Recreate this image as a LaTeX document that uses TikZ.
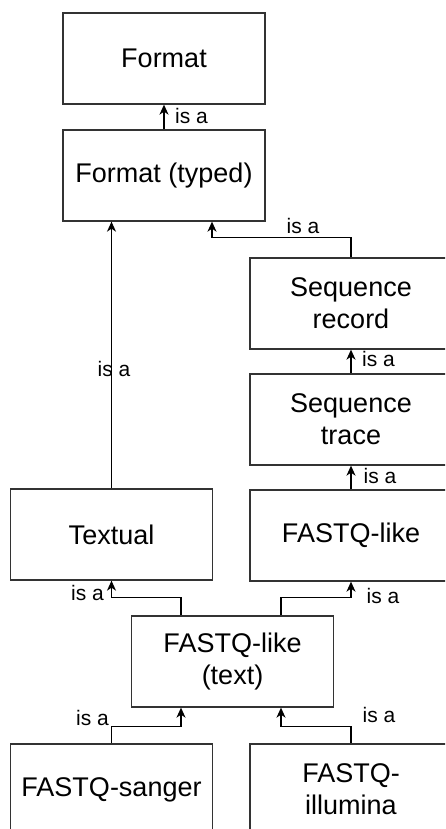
\documentclass[tikz,border=0pt]{standalone}
\usepackage{fontspec}
\setmainfont{Liberation Sans}
\usetikzlibrary{arrows.meta,positioning}

\begin{document}
\begin{tikzpicture}
  [
    x=1pt, y=-1pt,
    align=center,
    box/.style={draw=black!80, line width=1.3pt, minimum width=202pt, minimum height=91pt, inner sep=0pt, font=\fontsize{27}{32}\selectfont},
    isa/.style={draw=none, fill=none, inner sep=0pt, font=\fontsize{21}{24}\selectfont},
    arrow/.style={-{Stealth[length=10pt,width=9pt,inset=3pt]}, line width=1.3pt}
  ]

  \clip (0,0) rectangle (445,829);

  % formats
  \node[box] (fmt) at (164, 58.5) {Format};
  \node[box] (typed) at (164, 175.5) {Format (typed)};
  \node[box] (record) at (351, 303.5) {Sequence\\record};
  \node[box] (trace) at (351, 419.5) {Sequence\\trace};
  \node[box] (textual) at (111.5, 534.5) {Textual};
  \node[box] (fqlike) at (351, 535.5) {FASTQ-like};
  \node[box] (fqtext) at (232.5, 661.5) {FASTQ-like\\(text)};
  \node[box] (sanger) at (111.5, 789.5) {FASTQ-sanger};
  \node[box] (illumina) at (351, 789.5) {FASTQ-\\illumina};

  % is-a labels
  \node[isa] (typedfmt) at (191.5, 116) {is a};
  \node[isa] (recordtyped) at (303, 226) {is a};
  \node[isa] (textualtyped) at (114, 369) {is a};
  \node[isa] (tracerecord) at (378.5, 359) {is a};
  \node[isa] (fqliketrace) at (380, 476) {is a};
  \node[isa] (fqtexttextual) at (87.5, 593) {is a};
  \node[isa] (fqtextfqlike) at (383, 596) {is a};
  \node[isa] (sangerfqtext) at (92.5, 718) {is a};
  \node[isa] (illuminafqtext) at (379, 715) {is a};

  % is-a arrows
  \foreach \from/\to in {typed/fmt,trace/record,fqlike/trace}
  \draw[arrow] (\from) -- (\to);

  \draw[arrow] (textual.north) -- (textual.north |- typed.south);
  \draw[arrow] (record.north) -- ++(0,-20) -| ([xshift=48]typed.south);
  \draw[arrow] ([xshift=-51.5]fqtext.north) -- ++(0,-18) -| (textual.south);
  \draw[arrow] ([xshift=48.5]fqtext.north) -- ++(0,-18) -| (fqlike.south);
  \draw[arrow] (sanger.north) -- ++(0,-17) -| ([xshift=-51.5]fqtext.south);
  \draw[arrow] (illumina.north) -- ++(0,-17) -| ([xshift=48.5]fqtext.south);

\end{tikzpicture}
\end{document}
